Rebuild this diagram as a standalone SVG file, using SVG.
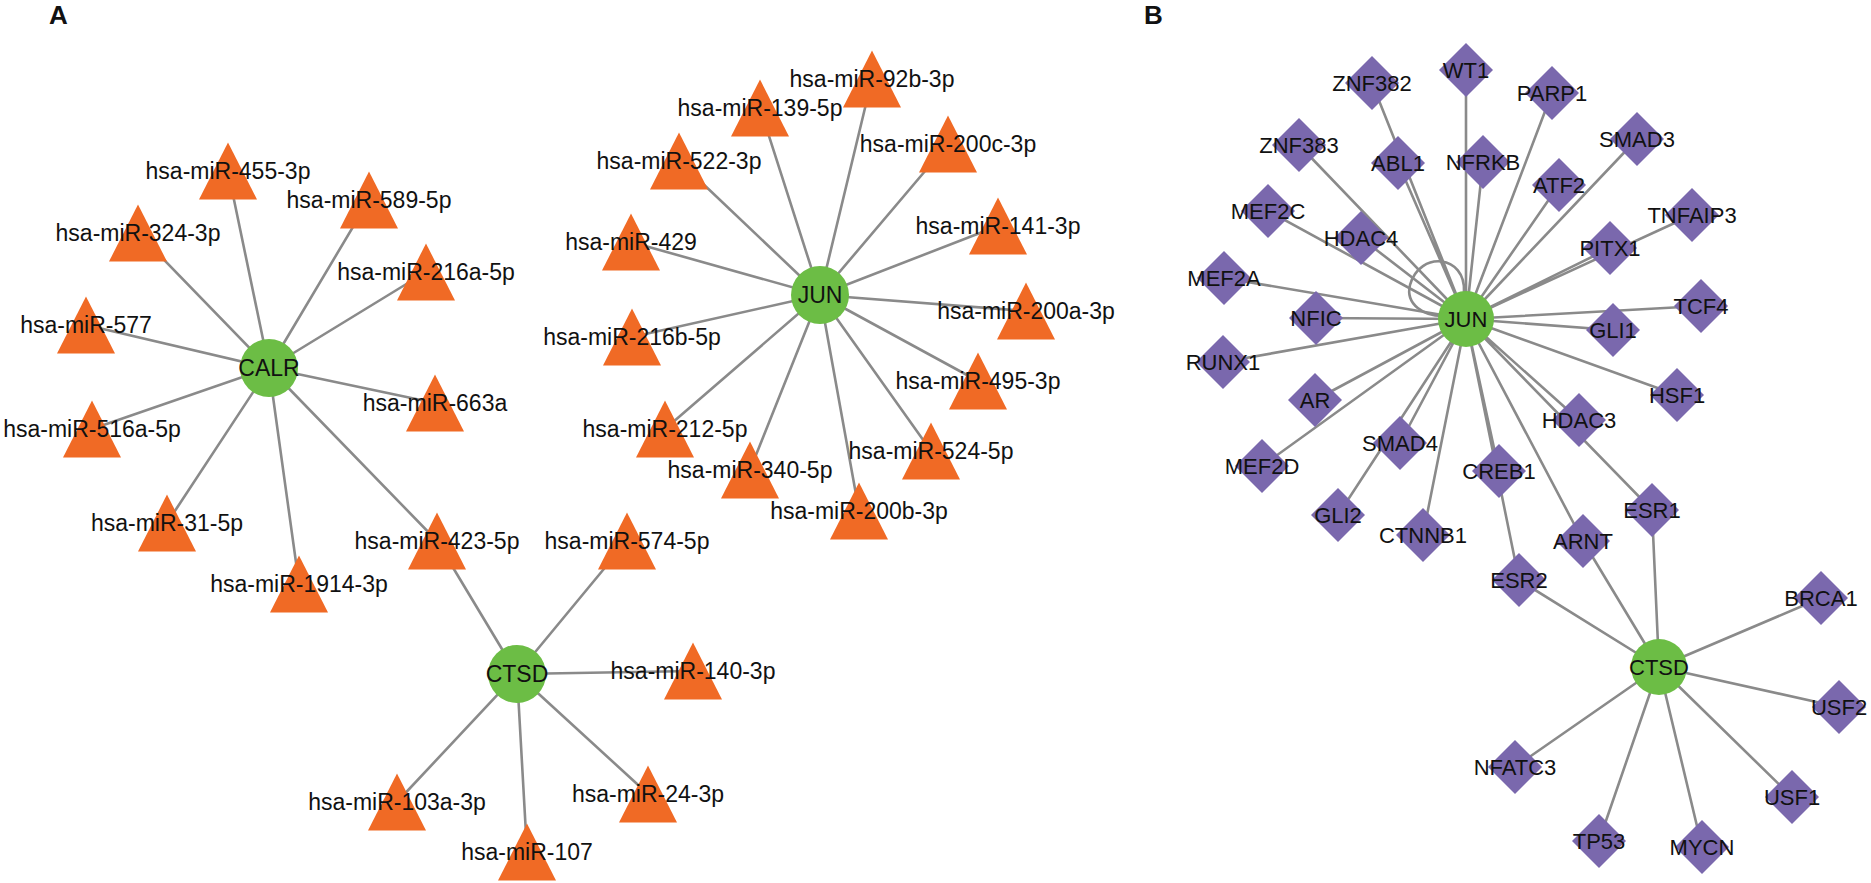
<svg xmlns="http://www.w3.org/2000/svg" xmlns:xlink="http://www.w3.org/1999/xlink" width="1871" height="883" viewBox="0 0 1871 883">
<defs>
<style>
.e{stroke:#8a8a8a;stroke-width:2.6;fill:none}
.t{fill:#f06a25}
.d{fill:#7a68ad}
.c{fill:#6cbd45}
text{font-family:"Liberation Sans",Arial,sans-serif;fill:#111;text-anchor:middle}
.la{font-size:23px}
.lb{font-size:22px}
.panel{font-size:26px;font-weight:bold;text-anchor:start}
</style>
<path id="tri" d="M0,-28.5 L29,28.5 L-29,28.5 Z"/>
<path id="dia" d="M0,-27 L27,0 L0,27 L-27,0 Z"/>
</defs>
<rect width="1871" height="883" fill="#fff"/>
<text class="panel" x="49" y="24">A</text>
<text class="panel" x="1144" y="24">B</text>

<g id="connectors">
<!-- CALR -->
<path class="e" d="M269,368L228,171M269,368L369,200M269,368L138,233M269,368L426,272M269,368L86,325M269,368L92,429M269,368L435,403M269,368L167,523M269,368L299,584M269,368L437,541"/>
<!-- CTSD A -->
<path class="e" d="M517,674L437,541M517,674L627,541M517,674L693,671M517,674L648,794M517,674L527,852M517,674L397,802"/>
<!-- JUN A -->
<path class="e" d="M820,295L872,79M820,295L760,108M820,295L679,161M820,295L631,242M820,295L632,337M820,295L665,429M820,295L750,470M820,295L859,511M820,295L931,451M820,295L978,381M820,295L1026,311M820,295L998,226M820,295L948,144"/>
<!-- JUN B -->
<path class="e" d="M1466,319L1372,83M1466,319L1398,163M1466,319L1466,70M1466,319L1552,93M1466,319L1299,145M1466,319L1483,162M1466,319L1637,139M1466,319L1559,185M1466,319L1268,211M1466,319L1361,238M1466,319L1692,215M1466,319L1610,248M1466,319L1224,278M1466,319L1316,318M1466,319L1701,306M1466,319L1613,330M1466,319L1223,362M1466,319L1315,400M1466,319L1677,395M1466,319L1579,420M1466,319L1400,443M1466,319L1262,466M1466,319L1499,471M1466,319L1338,515M1466,319L1652,510M1466,319L1423,535M1466,319L1583,541M1466,319L1519,580"/>
<path class="e" d="M1464,292 C1466,255 1420,250 1410,285 C1405,305 1425,316 1442,316"/>
<!-- CTSD B -->
<path class="e" d="M1659,667L1519,580M1659,667L1583,541M1659,667L1652,510M1659,667L1821,598M1659,667L1839,707M1659,667L1792,797M1659,667L1702,847M1659,667L1599,841M1659,667L1515,767"/>
</g>

<g id="n-m455"><use href="#tri" class="t" x="228" y="171"/><text class="la" x="228" y="179">hsa-miR-455-3p</text></g>
<g id="n-m589"><use href="#tri" class="t" x="369" y="200"/><text class="la" x="369" y="208">hsa-miR-589-5p</text></g>
<g id="n-m324"><use href="#tri" class="t" x="138" y="233"/><text class="la" x="138" y="241">hsa-miR-324-3p</text></g>
<g id="n-m216a"><use href="#tri" class="t" x="426" y="272"/><text class="la" x="426" y="280">hsa-miR-216a-5p</text></g>
<g id="n-m577"><use href="#tri" class="t" x="86" y="325"/><text class="la" x="86" y="333">hsa-miR-577</text></g>
<g id="n-m516a"><use href="#tri" class="t" x="92" y="429"/><text class="la" x="92" y="437">hsa-miR-516a-5p</text></g>
<g id="n-m663a"><use href="#tri" class="t" x="435" y="403"/><text class="la" x="435" y="411">hsa-miR-663a</text></g>
<g id="n-m31"><use href="#tri" class="t" x="167" y="523"/><text class="la" x="167" y="531">hsa-miR-31-5p</text></g>
<g id="n-m423"><use href="#tri" class="t" x="437" y="541"/><text class="la" x="437" y="549">hsa-miR-423-5p</text></g>
<g id="n-m1914"><use href="#tri" class="t" x="299" y="584"/><text class="la" x="299" y="592">hsa-miR-1914-3p</text></g>
<g id="n-m574"><use href="#tri" class="t" x="627" y="541"/><text class="la" x="627" y="549">hsa-miR-574-5p</text></g>
<g id="n-m140"><use href="#tri" class="t" x="693" y="671"/><text class="la" x="693" y="679">hsa-miR-140-3p</text></g>
<g id="n-m103a"><use href="#tri" class="t" x="397" y="802"/><text class="la" x="397" y="810">hsa-miR-103a-3p</text></g>
<g id="n-m107"><use href="#tri" class="t" x="527" y="852"/><text class="la" x="527" y="860">hsa-miR-107</text></g>
<g id="n-m24"><use href="#tri" class="t" x="648" y="794"/><text class="la" x="648" y="802">hsa-miR-24-3p</text></g>
<g id="n-m92b"><use href="#tri" class="t" x="872" y="79"/><text class="la" x="872" y="87">hsa-miR-92b-3p</text></g>
<g id="n-m139"><use href="#tri" class="t" x="760" y="108"/><text class="la" x="760" y="116">hsa-miR-139-5p</text></g>
<g id="n-m522"><use href="#tri" class="t" x="679" y="161"/><text class="la" x="679" y="169">hsa-miR-522-3p</text></g>
<g id="n-m429"><use href="#tri" class="t" x="631" y="242"/><text class="la" x="631" y="250">hsa-miR-429</text></g>
<g id="n-m216b"><use href="#tri" class="t" x="632" y="337"/><text class="la" x="632" y="345">hsa-miR-216b-5p</text></g>
<g id="n-m212"><use href="#tri" class="t" x="665" y="429"/><text class="la" x="665" y="437">hsa-miR-212-5p</text></g>
<g id="n-m340"><use href="#tri" class="t" x="750" y="470"/><text class="la" x="750" y="478">hsa-miR-340-5p</text></g>
<g id="n-m200b"><use href="#tri" class="t" x="859" y="511"/><text class="la" x="859" y="519">hsa-miR-200b-3p</text></g>
<g id="n-m524"><use href="#tri" class="t" x="931" y="451"/><text class="la" x="931" y="459">hsa-miR-524-5p</text></g>
<g id="n-m495"><use href="#tri" class="t" x="978" y="381"/><text class="la" x="978" y="389">hsa-miR-495-3p</text></g>
<g id="n-m200a"><use href="#tri" class="t" x="1026" y="311"/><text class="la" x="1026" y="319">hsa-miR-200a-3p</text></g>
<g id="n-m141"><use href="#tri" class="t" x="998" y="226"/><text class="la" x="998" y="234">hsa-miR-141-3p</text></g>
<g id="n-m200c"><use href="#tri" class="t" x="948" y="144"/><text class="la" x="948" y="152">hsa-miR-200c-3p</text></g>

<g id="n-calr"><circle class="c" cx="269" cy="368" r="29"/><text class="la" x="269" y="376">CALR</text></g>
<g id="n-ctsd-a"><circle class="c" cx="517" cy="674" r="29"/><text class="la" x="517" y="682">CTSD</text></g>
<g id="n-jun-a"><circle class="c" cx="820" cy="295" r="29"/><text class="la" x="820" y="303">JUN</text></g>

<g id="n-znf382"><use href="#dia" class="d" x="1372" y="83"/><text class="lb" x="1372" y="91">ZNF382</text></g>
<g id="n-wt1"><use href="#dia" class="d" x="1466" y="70"/><text class="lb" x="1466" y="78">WT1</text></g>
<g id="n-parp1"><use href="#dia" class="d" x="1552" y="93"/><text class="lb" x="1552" y="101">PARP1</text></g>
<g id="n-znf383"><use href="#dia" class="d" x="1299" y="145"/><text class="lb" x="1299" y="153">ZNF383</text></g>
<g id="n-abl1"><use href="#dia" class="d" x="1398" y="163"/><text class="lb" x="1398" y="171">ABL1</text></g>
<g id="n-nfrkb"><use href="#dia" class="d" x="1483" y="162"/><text class="lb" x="1483" y="170">NFRKB</text></g>
<g id="n-smad3"><use href="#dia" class="d" x="1637" y="139"/><text class="lb" x="1637" y="147">SMAD3</text></g>
<g id="n-atf2"><use href="#dia" class="d" x="1559" y="185"/><text class="lb" x="1559" y="193">ATF2</text></g>
<g id="n-mef2c"><use href="#dia" class="d" x="1268" y="211"/><text class="lb" x="1268" y="219">MEF2C</text></g>
<g id="n-hdac4"><use href="#dia" class="d" x="1361" y="238"/><text class="lb" x="1361" y="246">HDAC4</text></g>
<g id="n-tnfaip3"><use href="#dia" class="d" x="1692" y="215"/><text class="lb" x="1692" y="223">TNFAIP3</text></g>
<g id="n-pitx1"><use href="#dia" class="d" x="1610" y="248"/><text class="lb" x="1610" y="256">PITX1</text></g>
<g id="n-mef2a"><use href="#dia" class="d" x="1224" y="278"/><text class="lb" x="1224" y="286">MEF2A</text></g>
<g id="n-nfic"><use href="#dia" class="d" x="1316" y="318"/><text class="lb" x="1316" y="326">NFIC</text></g>
<g id="n-tcf4"><use href="#dia" class="d" x="1701" y="306"/><text class="lb" x="1701" y="314">TCF4</text></g>
<g id="n-gli1"><use href="#dia" class="d" x="1613" y="330"/><text class="lb" x="1613" y="338">GLI1</text></g>
<g id="n-runx1"><use href="#dia" class="d" x="1223" y="362"/><text class="lb" x="1223" y="370">RUNX1</text></g>
<g id="n-ar"><use href="#dia" class="d" x="1315" y="400"/><text class="lb" x="1315" y="408">AR</text></g>
<g id="n-hsf1"><use href="#dia" class="d" x="1677" y="395"/><text class="lb" x="1677" y="403">HSF1</text></g>
<g id="n-hdac3"><use href="#dia" class="d" x="1579" y="420"/><text class="lb" x="1579" y="428">HDAC3</text></g>
<g id="n-smad4"><use href="#dia" class="d" x="1400" y="443"/><text class="lb" x="1400" y="451">SMAD4</text></g>
<g id="n-mef2d"><use href="#dia" class="d" x="1262" y="466"/><text class="lb" x="1262" y="474">MEF2D</text></g>
<g id="n-creb1"><use href="#dia" class="d" x="1499" y="471"/><text class="lb" x="1499" y="479">CREB1</text></g>
<g id="n-gli2"><use href="#dia" class="d" x="1338" y="515"/><text class="lb" x="1338" y="523">GLI2</text></g>
<g id="n-esr1"><use href="#dia" class="d" x="1652" y="510"/><text class="lb" x="1652" y="518">ESR1</text></g>
<g id="n-ctnnb1"><use href="#dia" class="d" x="1423" y="535"/><text class="lb" x="1423" y="543">CTNNB1</text></g>
<g id="n-arnt"><use href="#dia" class="d" x="1583" y="541"/><text class="lb" x="1583" y="549">ARNT</text></g>
<g id="n-esr2"><use href="#dia" class="d" x="1519" y="580"/><text class="lb" x="1519" y="588">ESR2</text></g>
<g id="n-brca1"><use href="#dia" class="d" x="1821" y="598"/><text class="lb" x="1821" y="606">BRCA1</text></g>
<g id="n-usf2"><use href="#dia" class="d" x="1839" y="707"/><text class="lb" x="1839" y="715">USF2</text></g>
<g id="n-nfatc3"><use href="#dia" class="d" x="1515" y="767"/><text class="lb" x="1515" y="775">NFATC3</text></g>
<g id="n-usf1"><use href="#dia" class="d" x="1792" y="797"/><text class="lb" x="1792" y="805">USF1</text></g>
<g id="n-tp53"><use href="#dia" class="d" x="1599" y="841"/><text class="lb" x="1599" y="849">TP53</text></g>
<g id="n-mycn"><use href="#dia" class="d" x="1702" y="847"/><text class="lb" x="1702" y="855">MYCN</text></g>

<g id="n-jun-b"><circle class="c" cx="1466" cy="319" r="28"/><text class="lb" x="1466" y="327">JUN</text></g>
<g id="n-ctsd-b"><circle class="c" cx="1659" cy="667" r="28"/><text class="lb" x="1659" y="675">CTSD</text></g>
</svg>
